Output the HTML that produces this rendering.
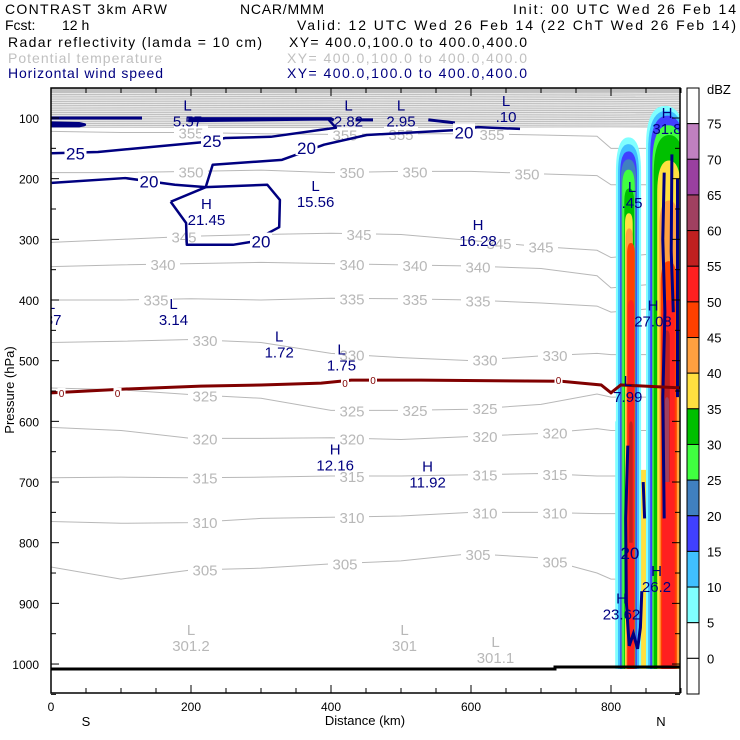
<!DOCTYPE html>
<html><head><meta charset="utf-8"><style>
body{margin:0;background:#fff}
svg{display:block;font-family:"Liberation Sans",sans-serif}
</style></head><body>
<svg id="c" width="740" height="740" viewBox="0 0 740 740" xmlns="http://www.w3.org/2000/svg">
<rect width="740" height="740" fill="#fff"/>
<g font-size="14">
<text x="5" y="14" textLength="162">CONTRAST  3km ARW</text>
<text x="240" y="14" textLength="84">NCAR/MMM</text>
<text x="513" y="14" textLength="223">Init: 00 UTC Wed 26 Feb 14</text>
<text x="5" y="30">Fcst:</text>
<text x="62" y="30">12 h</text>
<text x="297" y="30" textLength="439">Valid: 12 UTC Wed 26 Feb 14 (22 ChT Wed 26 Feb 14)</text>
<text x="8" y="47" textLength="254">Radar reflectivity (lamda = 10 cm)</text>
<text x="289" y="47" textLength="238">XY= 400.0,100.0 to 400.0,400.0</text>
<text x="8" y="63" textLength="154" fill="#c0c0c0">Potential temperature</text>
<text x="287" y="63" textLength="240" fill="#c0c0c0">XY= 400.0,100.0 to 400.0,400.0</text>
<text x="8" y="78" textLength="155" fill="#000080">Horizontal wind speed</text>
<text x="287" y="78" textLength="240" fill="#000080">XY= 400.0,100.0 to 400.0,400.0</text>
</g>
<defs><clipPath id="clip"><rect x="51" y="88" width="629" height="605"/></clipPath></defs>
<g id="plot" clip-path="url(#clip)"></g>
<g id="axes"></g>
<g id="cbar"></g>
</svg>
<script>
// ---- data ----
const xTicksKm=[0,200,400,600,800];
const yTicksHpa=[100,200,300,400,500,600,700,800,900,1000];
const sectionKm=[0,100,200,300,400,500,600,700,780,800,900];
const thetaLevels=[355,350,345,340,335,330,325,320,315,310,305];
const theta355=[122,124,124,126,127,126,126,128,130,150,150];
const theta350=[190,190,188,186,190,188,188,192,195,210,210];
const theta345=[305,300,295,292,290,292,302,312,318,330,320];
const theta340=[345,342,340,338,340,342,344,348,360,380,370];
const theta335=[400,400,398,400,397,398,400,405,410,420,410];
const theta330=[470,468,465,470,488,495,500,492,488,490,490];
const theta325=[545,548,556,562,582,582,580,572,555,560,560];
const theta320=[610,615,628,628,627,630,625,620,612,615,615];
const theta315=[693,692,693,692,690,690,688,686,690,690,690];
const theta310=[765,768,767,760,758,756,750,750,752,752,752];
const theta305=[840,860,845,842,835,830,818,825,850,860,860];
const thetaLabelKm=[[200,420,500,630],[200,430,520,680],[190,440,640,700],[160,430,520,610],[150,430,520,610],[220,430,620,720],[220,430,520,620],[220,430,620,720],[220,430,620,720],[220,430,620,720],[220,420,610,720]];
const upperThetaHpa=[58,61,64,67,70,73,76,79,82,85,88,91,94,97,100,103,106,109,112,115];
const freezeKm=[0,100,214,300,386,429,529,729,786,800,814,900];
const freezeHpa=[553,547,542,540,537,532,532,534,540,553,540,545];
const wind25=[[1,158],[67,156],[216,140],[249,133],[314,131],[407,116],[396,102],[196,105]];
const wind20a=[[1,207],[106,199],[177,210],[221,214],[231,177],[330,169],[390,144],[451,128],[577,120],[610,115],[670,118]];
const wind20loop=[[171,238],[221,214],[309,210],[327,235],[326,280],[287,304],[260,309],[194,309],[193,273],[171,238]];
const windTop=[[[0,100],[130,100]],[[196,101],[400,101],[404,104]],[[0,108],[40,109],[48,111],[40,113],[0,113]],[[539,103],[577,108]],[[435,103],[460,103]]];
const dbzLevels=[5,10,15,20,25,30,35,40,45,50,55,60,65,70,75];
const dbzColors=["#80ffff","#40c0ff","#4040ff","#4080c0","#40ff40","#00c000","#ffe040","#ffa040","#ff4000","#ff2020","#c02020","#a04060","#9a40a0","#c080c0","#ffffff"];
const plumeA=[[5,807,843,132],[10,810,840,143],[15,813,837,155],[20,814,836,168],[25,816,834,185],[30,819,833,216],[35,820,831,257],[40,821,831,282],[45,823,834,306],[50,824,833,400],[55,826,831,600]];
const plumeB=[[5,850,905,80],[10,853,905,88],[15,856,905,96],[25,859,905,112],[30,861,905,128],[35,866,900,170],[40,869,897,236],[45,871,894,336],[50,873,891,400],[55,876,884,450],[60,877,883,560]];
const lowerStrips=[[5,806,812],[15,812,817],[40,817,824],[50,824,836],[35,836,850],[30,850,857],[50,857,876],[45,876,886],[40,886,905]];
const lowerTopHpa=[600,640,620,560,680,680,600,580,560];
const hiLoLabels=[["L","5.57",195,88],["L","2.82",425,88],["L","2.95",500,88],["L",".10",650,80],["L","15.56",378,220],["H","21.45",222,250],["H","16.28",610,285],["L",".37",0,415],["L","3.14",175,415],["L","1.72",326,468],["L","1.75",415,490],["H","12.16",406,655],["H","11.92",538,683],["L","7.99",824,542],["H","27.08",860,417],["H","31.8",880,100],["L",".45",830,222],["H","26.2",865,855],["H","23.62",815,900]];
const surfLabels=[["L","301.2",200,952],["L","301",505,952],["L","301.1",635,972]];
// ---- scales ----
const X=km=>51+0.7*km;
const Y=p=>118+(p-100)*0.6067;
const NS="http://www.w3.org/2000/svg";
function mk(tag,attrs,parent){const e=document.createElementNS(NS,tag);for(const k in attrs)e.setAttribute(k,attrs[k]);parent.appendChild(e);return e;}
const plot=document.getElementById('plot'),axes=document.getElementById('axes'),cbar=document.getElementById('cbar');
const colorOf=d=>dbzColors[dbzLevels.indexOf(d)];
let gr=mk('rect',{x:51,y:88,width:629,height:Y(upperThetaHpa[0])-88,fill:'#c0c0c0'},plot);

upperThetaHpa.forEach((p,i)=>{let l=mk('path',{d:`M${X(0)},${Y(p)} L${X(400)},${Y(p+0.6)} L${X(800)},${Y(p-0.5)} L${X(900)},${Y(p)}`,stroke:'#c0c0c0','stroke-width':1.2,fill:'none'},plot);
});
const thetaSeries=[theta355,theta350,theta345,theta340,theta335,theta330,theta325,theta320,theta315,theta310,theta305];
const interp=(arr,km)=>{for(let i=0;i<sectionKm.length-1;i++){if(km<=sectionKm[i+1]){const t=(km-sectionKm[i])/(sectionKm[i+1]-sectionKm[i]);return arr[i]+t*(arr[i+1]-arr[i]);}}return arr[arr.length-1];};
thetaSeries.forEach((s,i)=>{let d=s.map((p,j)=>(j?'L':'M')+X(sectionKm[j])+','+Y(p)).join(' ');
let l=mk('path',{d,stroke:'#b8b8b8','stroke-width':1,fill:'none'},plot);
});
function column(spec,name,bottom){const [dbz,l,r,top]=spec;const xl=X(l),xr=X(r),yt=Y(top),yb=Y(bottom);const cx=(xl+xr)/2,h=Math.min(40,(xr-xl)*1.4);
let e=mk('path',{d:`M${xl},${yb} L${xl},${yt+h} Q${xl},${yt} ${cx},${yt} Q${xr},${yt} ${xr},${yt+h} L${xr},${yb} Z`,fill:colorOf(dbz)},plot);
}
lowerStrips.forEach((s,i)=>{let e=mk('rect',{x:X(s[1]),y:Y(lowerTopHpa[i]),width:X(s[2])-X(s[1]),height:Y(1008)-Y(lowerTopHpa[i]),fill:colorOf(s[0])},plot);
});
plumeA.forEach(s=>column(s,'plume-a',s[0]>=55?800:1008));
plumeB.forEach(s=>column(s,'plume-b',s[0]>=55?700:1008));
const plumeWind=[[[876,190],[874,300],[877,420],[874,560],[876,760]],[[887,160],[886,320],[889,420]],[[824,640],[821,760],[822,900],[826,970],[832,950],[838,975],[842,940],[844,880]],[[846,700],[848,760]],[[895,200],[895,560]]];
plumeWind.forEach(pl=>{let e=mk('path',{d:pl.map((q,j)=>(j?'L':'M')+X(q[0])+','+Y(q[1])).join(' '),stroke:'#000080','stroke-width':3,fill:'none'},plot);
});
thetaSeries.forEach((s,i)=>thetaLabelKm[i].forEach(km=>{const p=interp(s,km);
let r=mk('rect',{x:X(km)-17,y:Y(p)-7,width:34,height:14,fill:'#fff'},plot);
let t=mk('text',{x:X(km),y:Y(p)+6,'text-anchor':'middle','font-size':15,fill:'#b8b8b8'},plot);t.textContent=thetaLevels[i];
}));
let fz=mk('path',{d:freezeKm.map((k,j)=>(j?'L':'M')+X(k)+','+Y(freezeHpa[j])).join(' '),stroke:'#800000','stroke-width':3,fill:'none'},plot);

[15,95,420,460,725].forEach(km=>{const i=freezeKm.findIndex(k=>k>=km);const p=freezeHpa[Math.max(0,i-1)];
let r=mk('rect',{x:X(km)-4,y:Y(p)-5,width:8,height:10,fill:'#fff'},plot);
let t=mk('text',{x:X(km),y:Y(p)+4,'text-anchor':'middle','font-size':10,fill:'#800000'},plot);t.textContent='0';});
const wpath=(pts,name,w)=>{let e=mk('path',{d:pts.map((q,j)=>(j?'L':'M')+X(q[0])+','+Y(q[1])).join(' '),stroke:'#000080','stroke-width':w,fill:'none','stroke-linejoin':'round'},plot);
};
wpath(wind25,'wind-contour-25',2.5);wpath(wind20a,'wind-contour-20',2.5);wpath(wind20loop,'wind-contour-20-loop',2.5);
windTop.forEach(p=>wpath(p,'wind-contour-jet',3));
[[35,157,'25'],[230,136,'25'],[365,148,'20'],[590,122,'20'],[140,203,'20'],[300,302,'20'],[827,815,'20']].forEach(([km,p,s])=>{
let r=mk('rect',{x:X(km)-11,y:Y(p)-8,width:22,height:16,fill:'#fff'},plot);
if(km>800)r.setAttribute('fill','none');
let t=mk('text',{x:X(km),y:Y(p)+7,'text-anchor':'middle','font-size':17,fill:'#000080'},plot);t.textContent=s;});
hiLoLabels.forEach(([hl,v,km,p])=>{let t=mk('text',{x:X(km),y:Y(p),'text-anchor':'middle','font-size':15,fill:'#000080'},plot);t.textContent=hl;

let u=mk('text',{x:X(km),y:Y(p)+16,'text-anchor':'middle','font-size':15,fill:'#000080'},plot);u.textContent=v;
});
surfLabels.forEach(([hl,v,km,p])=>{let t=mk('text',{x:X(km),y:Y(p),'text-anchor':'middle','font-size':15,fill:'#b8b8b8'},plot);t.textContent=hl;

let u=mk('text',{x:X(km),y:Y(p)+16,'text-anchor':'middle','font-size':15,fill:'#b8b8b8'},plot);u.textContent=v;
});
let g1=mk('path',{d:`M${X(0)},669 L${X(720)},669 L${X(720)},667 L680,667`,stroke:'#000','stroke-width':3,fill:'none'},plot);

let fr=mk('rect',{x:51,y:88,width:629,height:605,fill:'none',stroke:'#000','stroke-width':1.5},axes);

for(let km=0;km<=900;km+=50){const len=km%200===0?8:5;
let a=mk('line',{x1:X(km),y1:693,x2:X(km),y2:693-len,stroke:'#000'},axes);
let b=mk('line',{x1:X(km),y1:88,x2:X(km),y2:88+len,stroke:'#000'},axes);}
xTicksKm.forEach(k=>{let t=mk('text',{x:X(k),y:711,'text-anchor':'middle','font-size':12},axes);t.textContent=k;});
for(let p=100;p<=1050;p+=50){const len=p%100===0?8:5;
let a=mk('line',{x1:51,y1:Y(p),x2:51+len,y2:Y(p),stroke:'#000'},axes);
let b=mk('line',{x1:680,y1:Y(p),x2:680-len,y2:Y(p),stroke:'#000'},axes);}
yTicksHpa.forEach(p=>{let t=mk('text',{x:39,y:Y(p)+5,'text-anchor':'end','font-size':12},axes);t.textContent=p;});
let xt=mk('text',{x:365,y:725,'text-anchor':'middle','font-size':13},axes);xt.textContent='Distance (km)';
let sL=mk('text',{x:86,y:726,'text-anchor':'middle','font-size':13},axes);sL.textContent='S';
let nL=mk('text',{x:661,y:726,'text-anchor':'middle','font-size':13},axes);nL.textContent='N';
let yt=mk('text',{x:14,y:390,'text-anchor':'middle','font-size':13,transform:'rotate(-90 14 390)'},axes);yt.textContent='Pressure (hPa)';
const segH=606/17;
for(let i=0;i<17;i++){const y0=88+i*segH;const lv=75-5*i;let fill='#ffffff';if(i>=1&&i<=14)fill=dbzColors[dbzLevels.indexOf(lv)];
let r=mk('rect',{x:687,y:y0,width:12,height:segH,fill,stroke:'#000','stroke-width':1},cbar);}
for(let i=0;i<=15;i++){let t=mk('text',{x:707,y:88+(i+1)*segH+5,'font-size':13},cbar);t.textContent=75-5*i;}
let dz=mk('text',{x:707,y:94,'font-size':13},cbar);dz.textContent='dBZ';
</script>
</body></html>
